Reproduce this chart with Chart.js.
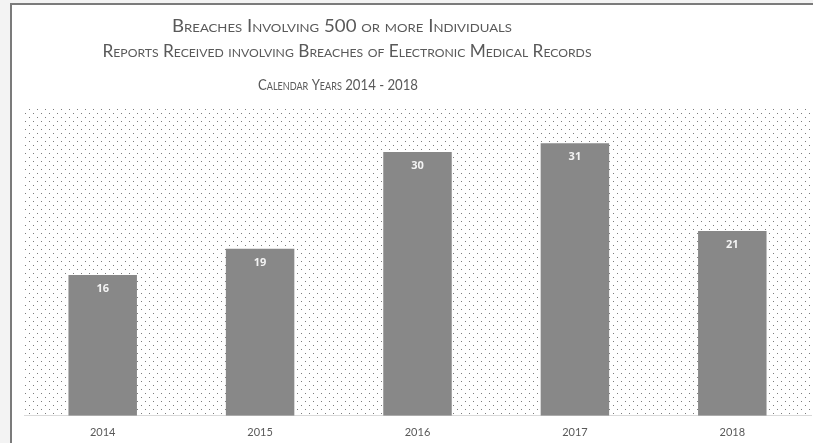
<!DOCTYPE html>
<html>
<head>
<meta charset="utf-8">
<script src="https://cdn.jsdelivr.net/npm/chart.js@4"></script>
<style>
  html, body { margin: 0; padding: 0; background: #f3f3f3; overflow: hidden; }
  #frame {
    position: absolute; left: 10px; top: 3px; width: 900px; height: 500px;
    background: #fff; border-left: 2px solid #7b7b7b; border-top: 2px solid #7b7b7b;
  }
  #wrap { position: absolute; left: 0; top: 0; width: 813px; height: 443px; }
</style>
</head>
<body>
<div id="frame"></div>
<div id="wrap"><canvas id="breachChart"></canvas></div>
<script>
// chart data
const years = ['2014', '2015', '2016', '2017', '2018'];
const breachCounts = [16, 19, 30, 31, 21];
const titleLines = [
    'Breaches Involving 500 or more Individuals',
    'Reports Received involving Breaches of Electronic Medical Records',
    'Calendar Years 2014 - 2018'
];

// dotted fill for the plot area
function makeDots() {
    const c = document.createElement('canvas');
    c.width = 8;
    c.height = 8;
    const g = c.getContext('2d');
    g.fillStyle = '#7c7c7c';
    g.fillRect(1, 1, 1, 1);
    g.fillRect(5, 5, 1, 1);
    return g.createPattern(c, 'repeat');
}

const dottedBg = {
    id: 'dottedBg',
    beforeDraw(chart) {
        const {ctx, chartArea: a} = chart;
        ctx.save();
        ctx.fillStyle = makeDots();
        ctx.fillRect(a.left, a.top, a.right - a.left, a.bottom - a.top);
        ctx.restore();
    }
};

// draw a line of text centred at x, squeezed/stretched to the given width
function fitText(ctx, text, x, y, width) {
    const w = ctx.measureText(text).width;
    ctx.save();
    ctx.translate(x, y);
    ctx.scale(width / w, 1);
    ctx.fillText(text, 0, 0);
    ctx.restore();
}

// title lines + value labels
const extras = {
    id: 'extras',
    afterDraw(chart) {
        const ctx = chart.ctx;
        ctx.save();
        ctx.textAlign = 'center';
        ctx.textBaseline = 'middle';
        ctx.fillStyle = '#595959';
        ctx.font = 'small-caps 400 17px Lato';
        fitText(ctx, titleLines[0], 342, 27, 340);
        fitText(ctx, titleLines[1], 347, 52, 489);
        ctx.font = 'small-caps 400 16px Lato';
        fitText(ctx, titleLines[2], 338, 85, 160);

        ctx.fillStyle = '#f4f4f4';
        ctx.font = 'bold 11px "Open Sans"';
        chart.getDatasetMeta(0).data.forEach((bar, i) => {
            ctx.fillText(breachCounts[i], bar.x, bar.y + 14);
        });
        ctx.restore();
    }
};

const ctx = document.getElementById('breachChart').getContext('2d');
const chart = new Chart(ctx, {
    type: 'bar',
    data: {
        labels: years,
        datasets: [{
            data: breachCounts,
            backgroundColor: '#888888',
            categoryPercentage: 1,
            barPercentage: 0.435
        }]
    },
    options: {
        responsive: true,
        maintainAspectRatio: false,
        animation: false,
        layout: {
            padding: {left: 24, right: 2, top: 108, bottom: -6}
        },
        plugins: {
            legend: {display: false},
            tooltip: {enabled: false}
        },
        scales: {
            x: {
                grid: {display: false, drawTicks: false},
                border: {display: true, color: '#d9d9d9', width: 1},
                ticks: {color: '#595959', padding: 10, font: {family: 'Lato', size: 11}}
            },
            y: {
                display: false,
                min: 0,
                max: 35
            }
        }
    },
    plugins: [dottedBg, extras]
});
</script>
</body>
</html>
